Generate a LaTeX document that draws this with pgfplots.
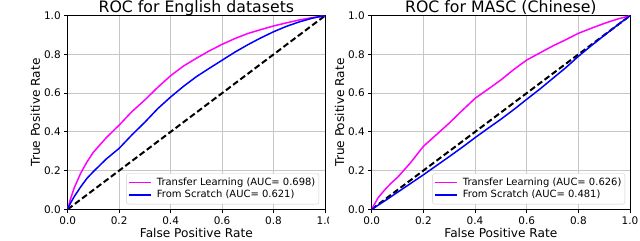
\documentclass[border=0pt]{standalone}
\usepackage{pgfplots}
\pgfplotsset{compat=1.18}
\usepackage{fontspec}
\setmainfont{DejaVu Sans}
\definecolor{mplmag}{HTML}{FF00FF}
\definecolor{mplblue}{HTML}{0000FF}
\pgfplotsset{
  rocax/.style={
    scale only axis, width=257.3bp, height=193.6bp,
    xmin=0, xmax=1, ymin=0, ymax=1,
    anchor=origin,
    xtick={0,0.2,...,1.0}, ytick={0,0.2,...,1.0},
    xticklabel style={/pgf/number format/.cd, fixed, fixed zerofill, precision=1},
    yticklabel style={/pgf/number format/.cd, fixed, fixed zerofill, precision=1},
    /pgf/number format/assume math mode=true,
    tick label style={font=\fontsize{10.5}{12}\selectfont},
    tick align=outside, tick pos=left,
    major tick length=3.5bp,
    every tick/.style={black, line width=0.8bp},
    axis line style={line width=0.8bp},
    grid=major, major grid style={color=black!22, line width=0.8bp},
    every axis title/.style={font=\fontsize{15.8}{18}\selectfont, at={(axis description cs:0.5,1)}, anchor=base, yshift=3bp},
    label style={font=\fontsize{12.2}{14}\selectfont},
    xlabel={False Positive Rate},
    ylabel={True Positive Rate},
    xlabel style={at={(axis description cs:0.5,-0.1431)}, anchor=base},
    legend style={anchor=south east,
      draw=black!20, rounded corners=2bp, font=\fontsize{10}{12}\selectfont,
      inner xsep=1.5bp, inner ysep=3bp, row sep=0bp,
      nodes={inner ysep=1.6bp, inner xsep=2bp}},
    legend cell align=left,
    legend image code/.code={\draw[##1, line width=1.5bp] (0bp,0bp) -- (21.7bp,0bp); \path (25.3bp,0bp);},
  },
  diag/.style={black, dash pattern=on 6bp off 3bp, line width=2bp, forget plot},
}
\begin{document}
\begin{tikzpicture}[x=1bp,y=1bp]
\useasboundingbox (0,0) rectangle (640,240);
\begin{axis}[rocax, at={(67.7bp,30.7bp)},
  title={ROC for English datasets},
  legend style={at={(axis description cs:0.977,0.026)}},
  ylabel style={at={(axis description cs:-0.1077,0.5)}, anchor=base}]
\addplot[diag] coordinates {(0,0) (1,1)};
\addplot[mplmag, line width=1.5bp] coordinates {
(0,0)(0.01,0.05)(0.025,0.11)(0.05,0.185)(0.075,0.245)(0.1,0.295)(0.15,0.37)(0.2,0.435)(0.25,0.505)(0.3,0.565)(0.35,0.63)(0.4,0.69)(0.45,0.74)(0.5,0.78)(0.55,0.818)(0.6,0.852)(0.65,0.882)(0.7,0.908)(0.75,0.928)(0.8,0.947)(0.85,0.963)(0.9,0.978)(0.95,0.99)(1,1)};
\addlegendentry{Transfer Learning (AUC= 0.698)}
\addplot[mplblue, line width=1.5bp] coordinates {
(0,0)(0.01,0.03)(0.025,0.065)(0.05,0.115)(0.075,0.16)(0.1,0.195)(0.15,0.26)(0.2,0.315)(0.25,0.385)(0.3,0.45)(0.35,0.52)(0.4,0.58)(0.45,0.635)(0.5,0.685)(0.55,0.728)(0.6,0.77)(0.65,0.812)(0.7,0.85)(0.75,0.885)(0.8,0.917)(0.85,0.945)(0.9,0.968)(0.95,0.987)(1,1)};
\addlegendentry{From Scratch (AUC= 0.621)}
\end{axis}
\fill[white] (329,0) rectangle (345,26);
\begin{axis}[rocax, at={(371.7bp,30.7bp)}, width=258.3bp,
  title={ROC for MASC (Chinese)},
  legend style={at={(axis description cs:0.981,0.026)}},
  ylabel style={at={(axis description cs:-0.107,0.5)}, anchor=base}]
\addplot[diag] coordinates {(0,0) (1,1)};
\addplot[mplmag, line width=1.5bp] coordinates {
(0,0)(0.01,0.025)(0.025,0.06)(0.05,0.10)(0.075,0.135)(0.1,0.165)(0.15,0.24)(0.2,0.325)(0.25,0.385)(0.3,0.445)(0.35,0.51)(0.4,0.573)(0.45,0.62)(0.5,0.668)(0.55,0.722)(0.6,0.771)(0.65,0.807)(0.7,0.843)(0.75,0.875)(0.8,0.909)(0.85,0.935)(0.9,0.96)(0.95,0.982)(1,1)};
\addlegendentry{Transfer Learning (AUC= 0.626)}
\addplot[mplblue, line width=1.5bp] coordinates {
(0,0)(0.05,0.043)(0.1,0.088)(0.15,0.133)(0.2,0.178)(0.25,0.225)(0.3,0.272)(0.35,0.32)(0.4,0.37)(0.45,0.418)(0.5,0.465)(0.55,0.515)(0.6,0.568)(0.65,0.62)(0.7,0.675)(0.75,0.73)(0.8,0.79)(0.85,0.845)(0.9,0.898)(0.95,0.95)(1,1)};
\addlegendentry{From Scratch (AUC= 0.481)}
\end{axis}
\end{tikzpicture}
\end{document}
